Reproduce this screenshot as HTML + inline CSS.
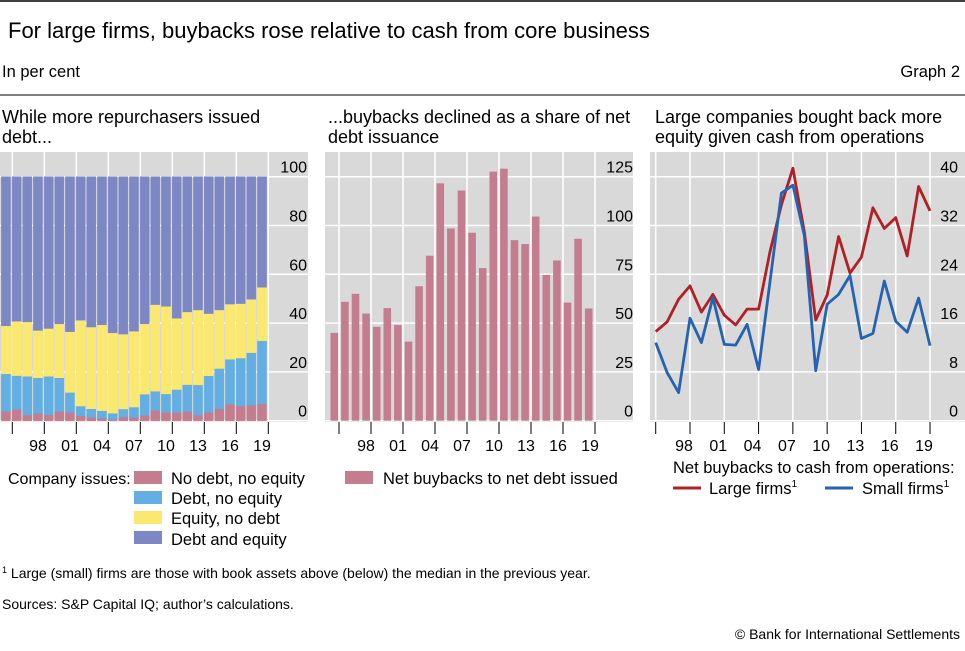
<!DOCTYPE html>
<html><head><meta charset="utf-8"><style>
body{margin:0;background:#fff}
svg{display:block;font-family:"Liberation Sans",sans-serif}
</style></head><body>
<svg id="c" width="965" height="651" viewBox="0 0 965 651">
<line x1="0" y1="1" x2="965" y2="1" stroke="#000" stroke-width="1.5"/>
<text x="8" y="38" font-size="22" fill="#000">For large firms, buybacks rose relative to cash from core business</text>
<text x="2" y="77" font-size="16.5">In per cent</text>
<text x="960" y="77" font-size="16.5" text-anchor="end">Graph 2</text>
<line x1="0" y1="95" x2="965" y2="95" stroke="#000" stroke-width="1"/>
<text x="2" y="123" font-size="18"><tspan x="2">While more repurchasers issued</tspan><tspan x="2" dy="20">debt...</tspan></text>
<text x="328" y="123" font-size="18"><tspan x="328">...buybacks declined as a share of net</tspan><tspan x="328" dy="20">debt issuance</tspan></text>
<text x="655" y="123" font-size="18"><tspan x="655">Large companies bought back more</tspan><tspan x="655" dy="20">equity given cash from operations</tspan></text>
<g id="p1"></g>
<g id="p2"></g>
<g id="p3"></g>
<g font-size="16.5">
<text x="8" y="484" font-size="16">Company issues:</text>
<rect x="134" y="471" width="28" height="13" fill="#c47d8e"/><text x="171" y="484">No debt, no equity</text>
<rect x="134" y="491" width="28" height="13" fill="#63aee2"/><text x="171" y="504">Debt, no equity</text>
<rect x="134" y="511" width="28" height="13" fill="#fbe96f"/><text x="171" y="524">Equity, no debt</text>
<rect x="134" y="531" width="28" height="13" fill="#7d87c4"/><text x="171" y="545">Debt and equity</text>
</g>
<g font-size="16.5">
<rect x="345" y="471" width="28" height="13" fill="#c47d8e"/><text x="383" y="484">Net buybacks to net debt issued</text>
</g>
<g font-size="16.5">
<text x="673" y="473">Net buybacks to cash from operations:</text>
<line x1="673" y1="488" x2="701" y2="488" stroke="#b02025" stroke-width="3"/>
<text x="709" y="494">Large firms<tspan font-size="10" dy="-7">1</tspan></text>
<line x1="825" y1="488" x2="853" y2="488" stroke="#2563b0" stroke-width="3"/>
<text x="862" y="494">Small firms<tspan font-size="10" dy="-7">1</tspan></text>
</g>
<text x="2" y="578" font-size="14"><tspan font-size="9" dy="-5">1</tspan><tspan dy="5">  Large (small) firms are those with book assets above (below) the median in the previous year.</tspan></text>
<text x="2" y="609" font-size="14">Sources: S&amp;P Capital IQ; author’s calculations.</text>
<text x="960" y="639" font-size="14" text-anchor="end">© Bank for International Settlements</text>
</svg>
<script>
const years=[1995,1996,1997,1998,1999,2000,2001,2002,2003,2004,2005,2006,2007,2008,2009,2010,2011,2012,2013,2014,2015,2016,2017,2018,2019];
const tickLabels=["98","01","04","07","10","13","16","19"];
const noDebtNoEquity=[3.9,4.6,2.3,3.1,2.4,3.8,3.5,2,1.4,1,0.5,1.5,1.4,2.2,4.2,3.4,3.4,3.8,2.3,3.5,4.9,6.8,6.1,6.4,6.9];
const debtNoEquity=[15.3,13.9,15.9,14.5,15.8,13.8,8.1,4,3.5,3.1,2.6,3.3,4.2,8.7,7.9,7.6,9.4,11,12.4,14.9,16.5,18.4,19.6,21.5,25.9];
const equityNoDebt=[19.7,22.3,22.3,19.4,19.6,22.1,24.9,35.2,33.5,35.2,32.9,30.7,31.1,28.8,35.5,35.9,29.2,29.8,30.7,25.5,24,22.6,22.3,21.9,21.9];
const debtAndEquity=[61.1,59.2,59.5,63,62.2,60.3,63.5,58.8,61.6,60.7,64,64.5,63.3,60.3,52.4,53.1,58,55.4,54.6,56.1,54.6,52.2,52,50.2,45.3];
const p1Ticks=[0,20,40,60,80,100];
const buybackShare=[45,60.9,65,54.9,48.1,57.7,49,40.5,68.9,84.5,121.6,98.5,117.9,96.3,78.2,127.6,129.1,92.5,90.5,104.6,74.7,82.1,60.5,93.2,57.5];
const p2Ticks=[0,25,50,75,100,125];
const largeFirms=[14.6,16.2,19.9,22.1,17.8,20.7,17.3,15.7,18.3,18.3,27.7,35.4,41.4,31,16.5,20.6,30.2,24.2,26.8,34.9,31.5,33.3,27,38.4,34.4];
const smallFirms=[12.8,7.9,4.6,16.8,12.8,20.2,12.5,12.4,15.8,8.4,22.8,37.3,38.6,30.4,8.2,19.1,20.7,23.8,13.5,14.3,22.9,16.3,14.5,20.1,12.3];
const p3Ticks=[0,8,16,24,32,40];

const NS="http://www.w3.org/2000/svg";
function mk(parent,tag,attrs){const e=document.createElementNS(NS,tag);for(const k in attrs)e.setAttribute(k,attrs[k]);parent.appendChild(e);return e;}
const Y0=420.7,Y1=176.7;
function panel(g,gx0,gx1,tickVals,labelRight,nameP){
  const bg=mk(g,'rect',{x:gx0,y:152,width:gx1-gx0,height:270,fill:'#d9d9d9'});
  
  const max=tickVals[tickVals.length-1];
  const ys=v=>Y0-(Y0-Y1)*v/max;
  tickVals.forEach(t=>{
    const l=mk(g,'line',{x1:gx0,x2:gx1,y1:ys(t),y2:ys(t),stroke:'#fff','stroke-width':1.5});
    
    const tx=mk(g,'text',{x:labelRight,y:ys(t)-4,'font-size':16,'text-anchor':'end'});tx.textContent=t;
    
  });
  return ys;
}
function xaxis(g,xt,count,nameP){
  for(let k=0;k<count;k++){
    const x=xt(k);
    const v=mk(g,'line',{x1:x,x2:x,y1:152,y2:Y0,stroke:'#fff','stroke-width':1.5});
    
    const t=mk(g,'line',{x1:x,x2:x,y1:422,y2:434,stroke:'#000','stroke-width':1});
    
  }
}
(function(){
  const g=document.getElementById('p1');
  const ys=panel(g,0,308,p1Ticks,307,'panel1');
  const bw=10.67,x0=0.8;
  const xb=i=>x0+i*bw;
  xaxis(g,k=>12.3+32*k,9,'panel1');
  const series=[[noDebtNoEquity,'#c47d8e','no-debt-no-equity'],[debtNoEquity,'#63aee2','debt-no-equity'],[equityNoDebt,'#fbe96f','equity-no-debt'],[debtAndEquity,'#7d87c4','debt-and-equity']];
  years.forEach((yr,i)=>{
    let cum=0;
    series.forEach(s=>{
      const v=s[0][i];
      const r=mk(g,'rect',{x:xb(i)+0.6,y:ys(cum+v),width:bw-1.6,height:ys(cum)-ys(cum+v),fill:s[1],stroke:s[1],'stroke-width':0.5});
      
      
      cum+=v;
    });
  });
  tickLabels.forEach((lab,k)=>{const t=mk(g,'text',{x:38+32*k,y:451,'font-size':16,'text-anchor':'middle'});t.textContent=lab;
    });
})();
(function(){
  const g=document.getElementById('p2');
  const ys=panel(g,325,633,p2Ticks,633,'panel2');
  const bw=10.6,x0=329;
  xaxis(g,k=>339+32*k,9,'panel2');
  years.forEach((yr,i)=>{
    const v=buybackShare[i];
    const r=mk(g,'rect',{x:x0+i*bw+1.5,y:ys(v),width:bw-3,height:Y0-ys(v),fill:'#c47d8e'});
    
    
  });
  tickLabels.forEach((lab,k)=>{const t=mk(g,'text',{x:366+32*k,y:451,'font-size':16,'text-anchor':'middle'});t.textContent=lab;
    });
})();
(function(){
  const g=document.getElementById('p3');
  const ys=panel(g,650,965,p3Ticks,958,'panel3');
  const xs=i=>655.7+i*11.43;
  xaxis(g,k=>xs(3*k),9,'panel3');
  [[largeFirms,'#b02025','line-large-firms'],[smallFirms,'#2563b0','line-small-firms']].forEach(s=>{
    const d=s[0].map((v,i)=>(i?'L':'M')+xs(i).toFixed(1)+','+ys(v).toFixed(1)).join('');
    const p=mk(g,'path',{d:d,fill:'none',stroke:s[1],'stroke-width':2.8,'stroke-linejoin':'round'});
    
    
  });
  tickLabels.forEach((lab,k)=>{const t=mk(g,'text',{x:xs(3*(k+1))-6,y:451,'font-size':16,'text-anchor':'middle'});t.textContent=lab;
    });
})();
</script>
</body></html>
